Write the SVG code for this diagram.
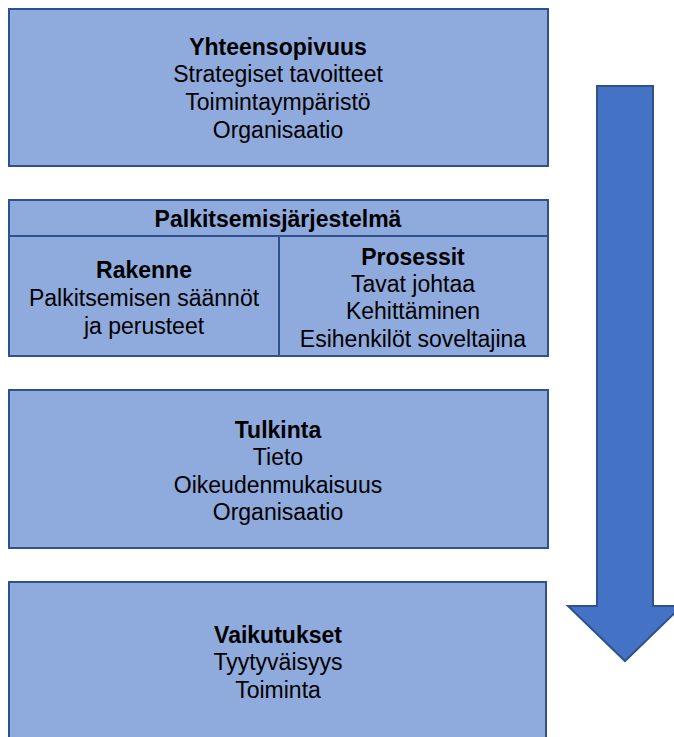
<svg xmlns="http://www.w3.org/2000/svg" width="674" height="737" viewBox="0 0 674 737">
<style>
.box{fill:#8faadc;stroke:#2f528f;stroke-width:2}
.arrow{fill:#4472c4;stroke:#2f528f;stroke-width:2}
text{font-family:"Liberation Sans",Arial,sans-serif;font-size:23px;fill:#000;text-anchor:middle}
.b{font-weight:bold}
</style>
<rect width="674" height="737" fill="#fff"/>
<g id="yhteensopivuus">
<rect class="box" x="9" y="9" width="539" height="157"/>
<text class="b" x="278" y="55">Yhteensopivuus</text>
<text x="278" y="82">Strategiset tavoitteet</text>
<text x="278" y="110">Toimintaympäristö</text>
<text x="278" y="138">Organisaatio</text>
</g>
<g id="palkitsemisjarjestelma">
<rect class="box" x="9" y="200" width="539" height="156"/>
<line x1="9" y1="236" x2="548" y2="236" stroke="#2f528f" stroke-width="2"/>
<line x1="279" y1="236" x2="279" y2="356" stroke="#2f528f" stroke-width="2"/>
<text class="b" x="278" y="227">Palkitsemisjärjestelmä</text>
<g id="rakenne">
<text class="b" x="144" y="278">Rakenne</text>
<text x="144" y="306">Palkitsemisen säännöt</text>
<text x="144" y="334">ja perusteet</text>
</g>
<g id="prosessit">
<text class="b" x="413" y="265">Prosessit</text>
<text x="413" y="292">Tavat johtaa</text>
<text x="413" y="319">Kehittäminen</text>
<text x="413" y="347">Esihenkilöt soveltajina</text>
</g>
</g>
<g id="tulkinta">
<rect class="box" x="9" y="390" width="539" height="158"/>
<text class="b" x="278" y="438">Tulkinta</text>
<text x="278" y="465">Tieto</text>
<text x="278" y="493">Oikeudenmukaisuus</text>
<text x="278" y="520">Organisaatio</text>
</g>
<g id="vaikutukset">
<rect class="box" x="9" y="582" width="537" height="170"/>
<text class="b" x="278" y="643">Vaikutukset</text>
<text x="278" y="670">Tyytyväisyys</text>
<text x="278" y="698">Toiminta</text>
</g>
<g id="connectors">
<path class="arrow" d="M597,86 H653 V606 H682 L625,661 L568,606 H597 Z"/>
</g>
</svg>
